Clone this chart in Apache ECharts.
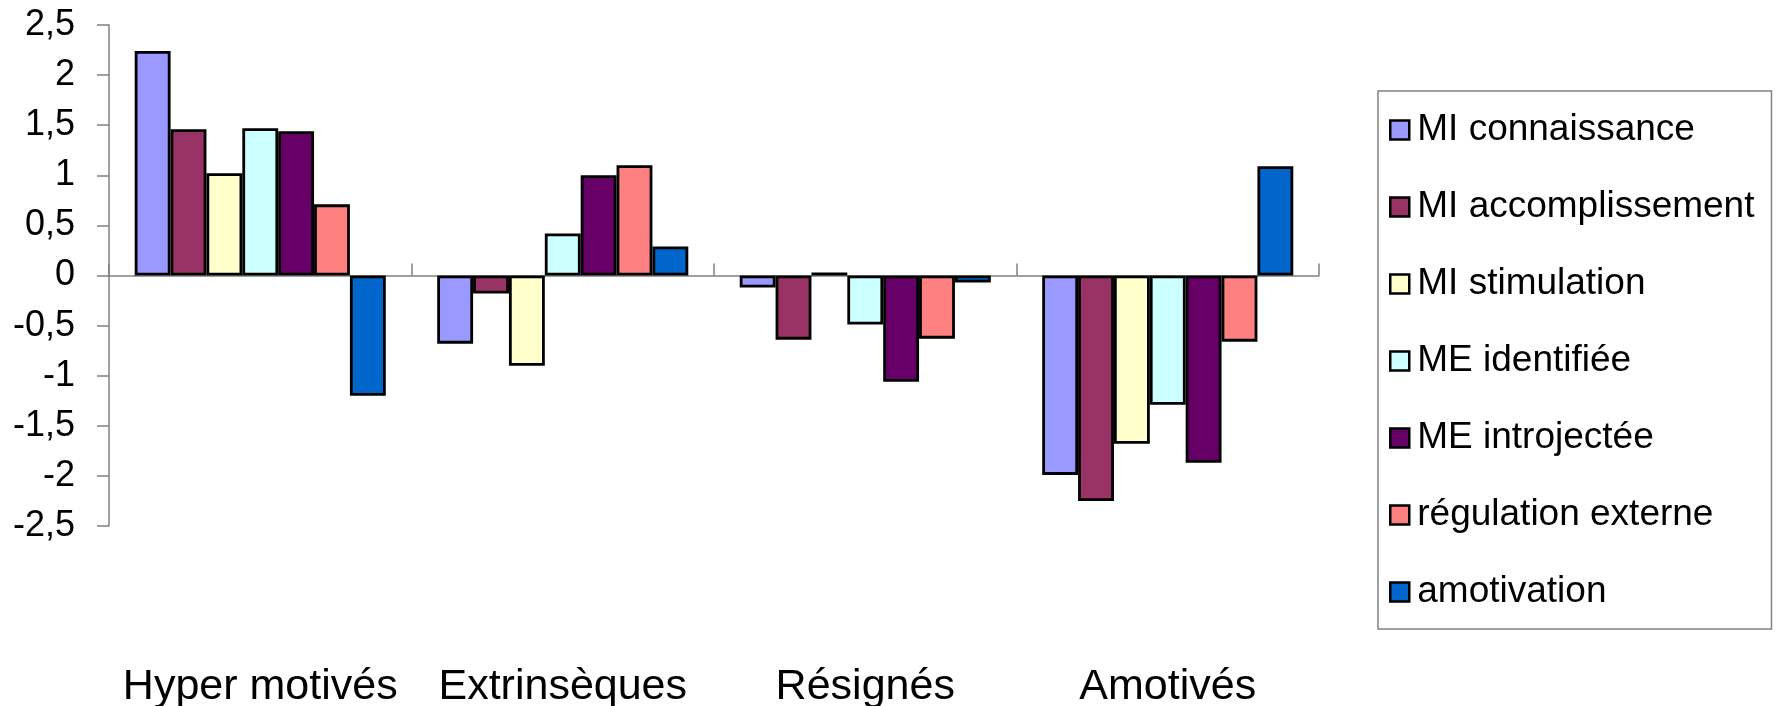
<!DOCTYPE html>
<html>
<head>
<meta charset="utf-8">
<script src="https://cdn.jsdelivr.net/npm/echarts@6/dist/echarts.min.js"></script>
<style>
  html, body { margin: 0; padding: 0; background: #fff; }
  #chart { width: 1779px; height: 706px; }
</style>
</head>
<body>
<div id="chart"></div>
<script>
// ---- Data ----
const categories = ["Hyper motivés", "Extrinsèques", "Résignés", "Amotivés"];
const seriesNames = ["MI connaissance", "MI accomplissement", "MI stimulation", "ME identifiée", "ME introjectée", "régulation externe", "amotivation"];
const miConnaissance     = [2.24, -0.68, -0.12, -1.99];
const miAccomplissement  = [1.46, -0.18, -0.64, -2.25];
const miStimulation      = [1.02, -0.90, 0.03, -1.68];
const meIdentifiee       = [1.47, 0.42, -0.49, -1.29];
const meIntrojectee      = [1.44, 1.00, -1.06, -1.87];
const regulationExterne  = [0.71, 1.10, -0.63, -0.66];
const amotivation        = [-1.20, 0.29, -0.07, 1.09];
const yTicks = { min: -2.5, max: 2.5, interval: 0.5 };

const seriesValues = [miConnaissance, miAccomplissement, miStimulation, meIdentifiee, meIntrojectee, regulationExterne, amotivation];
const colors = ["#9999FF", "#993366", "#FFFFCC", "#CCFFFF", "#660066", "#FF8080", "#0066CC"];

const FONT = "'Liberation Sans', Arial, sans-serif";
const chart = echarts.init(document.getElementById('chart'), null, { renderer: 'canvas' });

chart.setOption({
  animation: false,
  backgroundColor: '#ffffff',
  grid: { left: 109, right: 460, top: 25, bottom: 180, containLabel: false, outerBoundsMode: 'none' },
  legend: {
    orient: 'vertical',
    left: 1378,
    top: 91,
    padding: [19, 17, 17, 11],
    itemGap: 37,
    itemWidth: 19,
    itemHeight: 19,
    icon: 'rect',
    borderColor: '#808080',
    borderWidth: 1.5,
    itemStyle: { borderColor: '#000000', borderWidth: 2.5 },
    textStyle: { fontFamily: FONT, fontSize: 37, lineHeight: 40, color: '#000', padding: [0, 0, 0, 3] },
    data: seriesNames
  },
  xAxis: {
    type: 'category',
    data: categories,
    axisLine: { onZero: true, lineStyle: { color: '#808080', width: 1.5 } },
    axisTick: { show: true, inside: true, length: 12, lineStyle: { color: '#808080', width: 1.5 } },
    axisLabel: { fontFamily: FONT, fontSize: 43, color: '#000', margin: 140, interval: 0 },
    splitLine: { show: false }
  },
  yAxis: {
    type: 'value',
    min: yTicks.min,
    max: yTicks.max,
    interval: yTicks.interval,
    axisLine: { show: true, lineStyle: { color: '#808080', width: 1.5 } },
    axisTick: { show: true, inside: false, length: 12, lineStyle: { color: '#808080', width: 1.5 } },
    axisLabel: {
      fontFamily: FONT, fontSize: 36, color: '#000', margin: 34,
      formatter: v => String(v).replace('.', ',')
    },
    splitLine: { show: false }
  },
  series: seriesNames.map((name, i) => ({
    name: name,
    type: 'bar',
    data: seriesValues[i],
    barGap: '0%',
    barCategoryGap: '17%',
    itemStyle: { color: colors[i], borderColor: '#000000', borderWidth: 2.8 }
  }))
});
</script>
</body>
</html>
